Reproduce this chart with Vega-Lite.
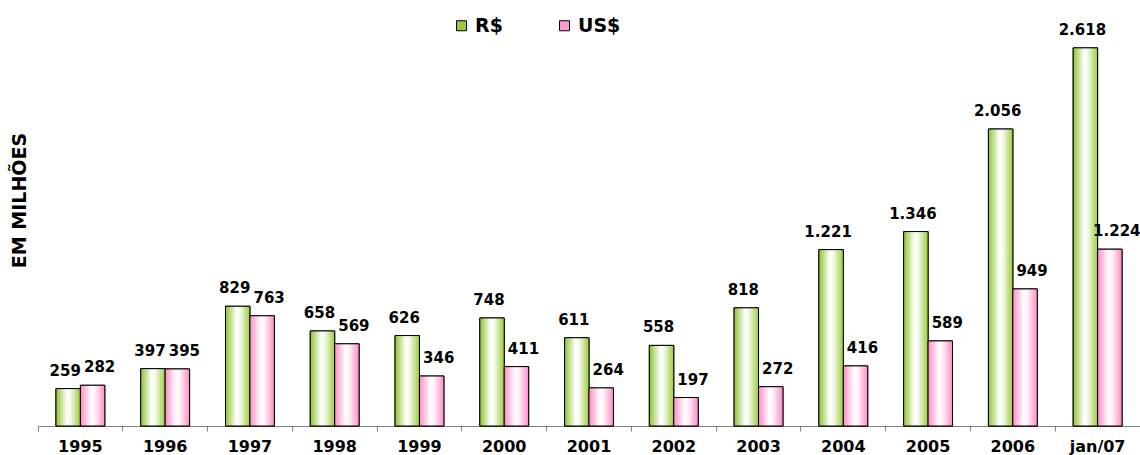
{
  "$schema": "https://vega.github.io/schema/vega-lite/v6.json",
  "width": 1102,
  "height": 416,
  "padding": {"left": 38, "top": 10, "right": 0, "bottom": 29},
  "autosize": {"type": "none"},
  "background": "white",
  "config": {
    "view": {"stroke": null},
    "locale": {"number": {"decimal": ",", "thousands": ".", "grouping": [3], "currency": ["R$", ""]}}
  },
  "data": {
    "values": [
      {"ano": "1995", "moeda": "R$", "valor": 259},
      {"ano": "1995", "moeda": "US$", "valor": 282},
      {"ano": "1996", "moeda": "R$", "valor": 397},
      {"ano": "1996", "moeda": "US$", "valor": 395},
      {"ano": "1997", "moeda": "R$", "valor": 829},
      {"ano": "1997", "moeda": "US$", "valor": 763},
      {"ano": "1998", "moeda": "R$", "valor": 658},
      {"ano": "1998", "moeda": "US$", "valor": 569},
      {"ano": "1999", "moeda": "R$", "valor": 626},
      {"ano": "1999", "moeda": "US$", "valor": 346},
      {"ano": "2000", "moeda": "R$", "valor": 748},
      {"ano": "2000", "moeda": "US$", "valor": 411},
      {"ano": "2001", "moeda": "R$", "valor": 611},
      {"ano": "2001", "moeda": "US$", "valor": 264},
      {"ano": "2002", "moeda": "R$", "valor": 558},
      {"ano": "2002", "moeda": "US$", "valor": 197},
      {"ano": "2003", "moeda": "R$", "valor": 818},
      {"ano": "2003", "moeda": "US$", "valor": 272},
      {"ano": "2004", "moeda": "R$", "valor": 1221},
      {"ano": "2004", "moeda": "US$", "valor": 416},
      {"ano": "2005", "moeda": "R$", "valor": 1346},
      {"ano": "2005", "moeda": "US$", "valor": 589},
      {"ano": "2006", "moeda": "R$", "valor": 2056},
      {"ano": "2006", "moeda": "US$", "valor": 949},
      {"ano": "jan/07", "moeda": "R$", "valor": 2618},
      {"ano": "jan/07", "moeda": "US$", "valor": 1224}
    ]
  },
  "encoding": {
    "x": {
      "field": "ano", "type": "nominal", "sort": null,
      "scale": {"paddingInner": 0, "paddingOuter": 0},
      "axis": {
        "title": null, "labelAngle": 0, "bandPosition": 0,
        "labelFont": "DejaVu Sans", "labelFontWeight": "bold", "labelFontSize": 16,
        "labelColor": "black", "labelPadding": 7, "labelBound": false, "labelOverlap": false,
        "domainColor": "#808080", "tickColor": "#808080", "tickSize": 5
      }
    },
    "xOffset": {
      "field": "moeda", "type": "nominal",
      "scale": {"domain": ["R$", "US$"], "paddingOuter": 0.735, "paddingInner": 0}
    },
    "y": {
      "field": "valor", "type": "quantitative",
      "scale": {"domain": [0, 2880], "nice": false},
      "axis": {
        "title": "EM MILHÕES", "labels": false, "ticks": false, "domain": false, "grid": false,
        "titleFont": "DejaVu Sans", "titleFontWeight": "bold", "titleFontSize": 19,
        "titleColor": "black", "titleX": -9, "titleY": 190
      }
    }
  },
  "layer": [
    {
      "mark": {"type": "bar", "stroke": "black", "strokeWidth": 1},
      "encoding": {
        "color": {
          "field": "moeda", "type": "nominal",
          "scale": {"domain": ["R$", "US$"], "range": ["#9ccc3c", "#ff9ccf"]},
          "legend": {
            "title": null, "orient": "none", "direction": "horizontal",
            "legendX": 414, "legendY": 6,
            "symbolType": "square", "symbolSize": 100, "symbolStrokeColor": "black",
            "symbolStrokeWidth": 1, "symbolOpacity": 1,
            "labelFont": "DejaVu Sans", "labelFontWeight": "bold", "labelFontSize": 19,
            "labelColor": "black", "columnPadding": 52, "labelOffset": 4
          }
        }
      }
    },
    {
      "transform": [{"filter": "datum.moeda === 'R$'"}],
      "mark": {
        "type": "bar", "stroke": "black", "strokeWidth": 1,
        "fill": {
          "gradient": "linear", "x1": 0, "y1": 0, "x2": 1, "y2": 0,
          "stops": [
            {"offset": 0, "color": "#8fc330"},
            {"offset": 0.45, "color": "#ffffff"},
            {"offset": 0.6, "color": "#f4f9ea"},
            {"offset": 1, "color": "#9ccc3c"}
          ]
        }
      }
    },
    {
      "transform": [{"filter": "datum.moeda === 'US$'"}],
      "mark": {
        "type": "bar", "stroke": "black", "strokeWidth": 1,
        "fill": {
          "gradient": "linear", "x1": 0, "y1": 0, "x2": 1, "y2": 0,
          "stops": [
            {"offset": 0, "color": "#ff8cc8"},
            {"offset": 0.45, "color": "#ffffff"},
            {"offset": 0.6, "color": "#fff0f8"},
            {"offset": 1, "color": "#ff8cc8"}
          ]
        }
      }
    },
    {
      "transform": [{"filter": "datum.moeda === 'R$'"}],
      "mark": {
        "type": "text", "baseline": "bottom", "dy": -10, "dx": -3,
        "font": "DejaVu Sans", "fontWeight": "bold", "fontSize": 15, "color": "black"
      },
      "encoding": {
        "text": {"field": "valor", "type": "quantitative", "format": ",d"}
      }
    },
    {
      "transform": [{"filter": "datum.moeda === 'US$'"}],
      "mark": {
        "type": "text", "baseline": "bottom", "dy": -10, "dx": 7,
        "font": "DejaVu Sans", "fontWeight": "bold", "fontSize": 15, "color": "black"
      },
      "encoding": {
        "text": {"field": "valor", "type": "quantitative", "format": ",d"}
      }
    }
  ]
}
